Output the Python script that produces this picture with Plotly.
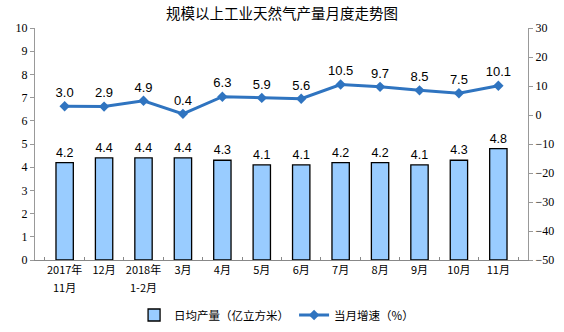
import plotly.graph_objects as go

categories = ["2017年11月", "12月", "2018年1-2月", "3月", "4月", "5月", "6月", "7月", "8月", "9月", "10月", "11月"]
tick_line1 = ["2017年", "12月", "2018年", "3月", "4月", "5月", "6月", "7月", "8月", "9月", "10月", "11月"]
tick_line2 = ["11月", "", "1-2月", "", "", "", "", "", "", "", "", ""]
daily_output = [4.2, 4.4, 4.4, 4.4, 4.3, 4.1, 4.1, 4.2, 4.2, 4.1, 4.3, 4.8]
yoy_growth = [3.0, 2.9, 4.9, 0.4, 6.3, 5.9, 5.6, 10.5, 9.7, 8.5, 7.5, 10.1]

serif = "Liberation Serif, Times New Roman, serif"
sans = "Liberation Sans, Arial, sans-serif"
cjk = "Noto Sans CJK SC"

fig = go.Figure()
fig.add_trace(go.Bar(
    x=categories, y=daily_output, name="日均产量（亿立方米）",
    marker=dict(color="#99CCFF", line=dict(color="#000000", width=1.3)),
    width=0.44,
    text=[f"{v:.1f}" for v in daily_output], textposition="outside",
    textfont=dict(family=sans, size=13, color="#000"),
    cliponaxis=False,
))
fig.add_trace(go.Scatter(
    x=categories, y=yoy_growth, name="当月增速（%）", yaxis="y2",
    mode="lines+markers+text",
    line=dict(color="#2F74C0", width=3),
    marker=dict(symbol="diamond", size=8, color="#2F74C0"),
    text=[f"{v:.1f}" for v in yoy_growth], textposition="top center",
    textfont=dict(family=sans, size=13, color="#000"),
    cliponaxis=False,
))

for cat, t2 in zip(categories, tick_line2):
    if t2:
        fig.add_annotation(x=cat, xref="x", y=0, yref="paper", yanchor="top", yshift=-17,
                           text=t2, showarrow=False,
                           font=dict(family=cjk, size=11, color="#000"))

fig.update_layout(
    width=564, height=332,
    margin=dict(l=35, r=36, t=28, b=72, autoexpand=False),
    paper_bgcolor="white", plot_bgcolor="white",
    title=dict(text="规模以上工业天然气产量月度走势图", x=0.5, xanchor="center",
               y=1 - 14 / 332, yanchor="middle", yref="container",
               font=dict(family=cjk, size=14.5, color="#000")),
    showlegend=True,
    legend=dict(orientation="h", x=0.49, xanchor="center", y=17 / 332, yanchor="middle",
                yref="container",
                font=dict(family=cjk, size=11.5, color="#000"),
                itemwidth=30, tracegroupgap=0),
    xaxis=dict(showline=True, linecolor="#888", ticks="inside", ticklen=3, tickcolor="#888",
               tickson="boundaries", tickangle=0,
               tickmode="array", tickvals=categories, ticktext=tick_line1,
               tickfont=dict(family=cjk, size=11, color="#000"), showgrid=False),
    yaxis=dict(range=[0, 10], dtick=1, showline=True, linecolor="#999", ticks="outside", ticklen=4,
               tickcolor="#999", showgrid=False, zeroline=False,
               tickfont=dict(family=serif, size=12, color="#000")),
    yaxis2=dict(range=[-50, 30], dtick=10, overlaying="y", side="right", showline=True, linecolor="#999",
                ticks="outside", ticklen=4, tickcolor="#999", showgrid=False, zeroline=False,
                tickfont=dict(family=serif, size=12, color="#000")),
)

fig.write_html("out.html")
